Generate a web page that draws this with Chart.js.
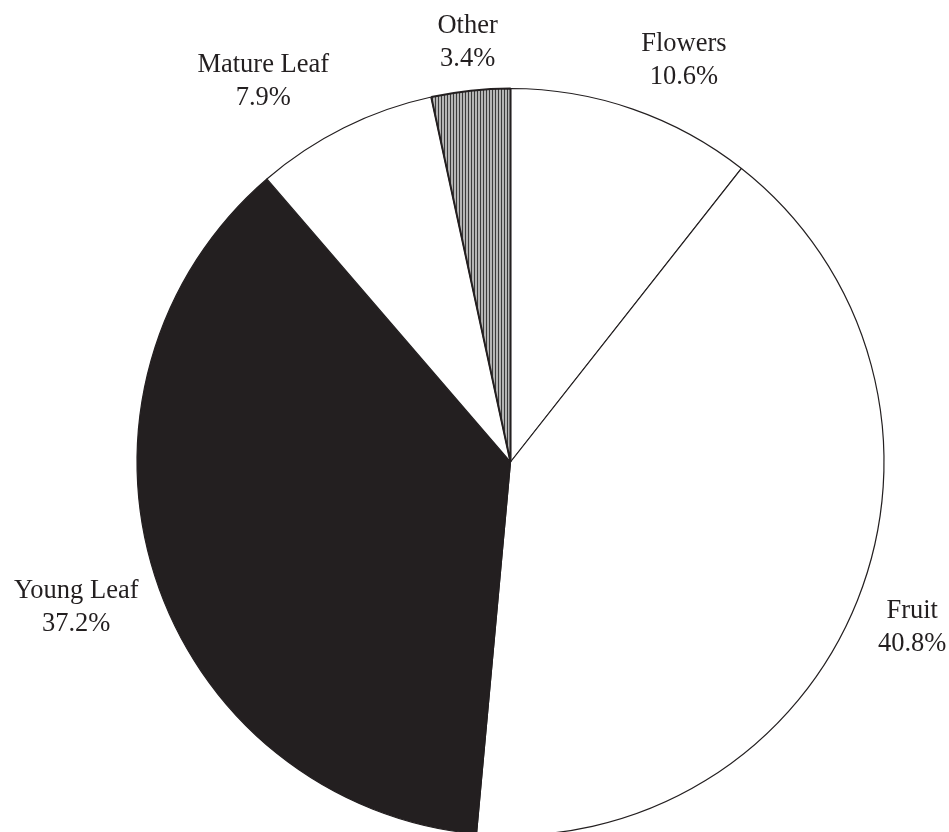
<!DOCTYPE html>
<html>
<head>
<meta charset="utf-8">
<script src="https://cdn.jsdelivr.net/npm/chart.js@4"></script>
<style>
html,body{margin:0;padding:0;background:#fff;overflow:hidden;}
#wrap{width:949px;height:840px;}
</style>
</head>
<body>
<div id="wrap"><canvas id="c" width="949" height="840"></canvas></div>
<script>
const categories = ["Flowers", "Fruit", "Young Leaf", "Mature Leaf", "Other"];
const values = [10.6, 40.8, 37.2, 7.9, 3.4];
const valueLabels = ["10.6%", "40.8%", "37.2%", "7.9%", "3.4%"];

// label nudges (px) from the default outside-anchor position
const labelNudge = [[39, -14], [20, 13], [-43, 20], [-64, -13], [1, -11]];

const INK = "#231f20";

function makeStripePattern() {
  const p = document.createElement("canvas");
  p.width = 3; p.height = 3;
  const g = p.getContext("2d");
  g.fillStyle = "#b4b4b4";
  g.fillRect(0, 0, 3, 3);
  g.fillStyle = "#3a3a3a";
  g.fillRect(0, 0, 1, 3);
  return document.getElementById("c").getContext("2d").createPattern(p, "repeat");
}

const fills = ["#ffffff", "#ffffff", INK, "#ffffff", makeStripePattern()];
const borders = [1.2, 1.2, 1.2, 1.2, 2];

const labelPlugin = {
  id: "outsideLabels",
  afterDatasetsDraw(chart) {
    const ctx = chart.ctx;
    const meta = chart.getDatasetMeta(0);
    ctx.save();
    ctx.fillStyle = INK;
    ctx.font = '26.5px "Liberation Serif", "Times New Roman", serif';
    ctx.textAlign = "center";
    ctx.textBaseline = "middle";
    meta.data.forEach((arc, i) => {
      const p = arc.getProps(["x", "y", "startAngle", "endAngle", "outerRadius"], true);
      const mid = (p.startAngle + p.endAngle) / 2;
      const r = p.outerRadius * 1.1;
      const cx = p.x + Math.cos(mid) * r + labelNudge[i][0];
      const cy = p.y + Math.sin(mid) * r + labelNudge[i][1];
      ctx.fillText(categories[i], cx, cy - 16);
      ctx.fillText(valueLabels[i], cx, cy + 17);
    });
    ctx.restore();
  }
};

new Chart(document.getElementById("c"), {
  type: "pie",
  data: {
    labels: categories,
    datasets: [{
      data: values,
      backgroundColor: fills,
      borderColor: INK,
      borderWidth: borders,
      borderAlign: "center"
    }]
  },
  options: {
    responsive: false,
    animation: false,
    devicePixelRatio: 1,
    layout: { padding: { left: 136, right: 64, top: 87, bottom: 3 } },
    plugins: {
      legend: { display: false },
      tooltip: { enabled: false },
      title: { display: false }
    }
  },
  plugins: [labelPlugin]
});
</script>
</body>
</html>
